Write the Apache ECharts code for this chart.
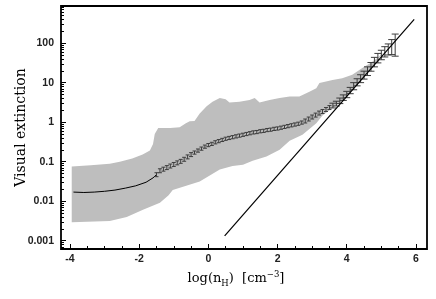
<!DOCTYPE html>
<html><head><meta charset="utf-8">
<script src="https://cdn.jsdelivr.net/npm/echarts@6/dist/echarts.min.js"></script>
<style>html,body{margin:0;padding:0;background:#fff}#c{width:436px;height:299px}</style>
</head><body><div id="c"></div>
<script>
// tick labels
const xTickLabels = [-4, -2, 0, 2, 4, 6];
const xMinorTicks = [-3.5, -3, -2.5, -1.5, -1, -0.5, 0.5, 1, 1.5, 2.5, 3, 3.5, 4.5, 5, 5.5];
const yTickValues = [0.001, 0.01, 0.1, 1, 10, 100];
const yTickLabels = ['0.001', '0.01', '0.1', '1', '10', '100'];

// median curve, low-density part (solid black line)
const medianLineX  = [-3.9, -3.6, -3.3, -3.0, -2.7, -2.4, -2.1, -1.8, -1.6, -1.5];
const medianLineAv = [0.0170, 0.0166, 0.0170, 0.0178, 0.0191, 0.0214, 0.0245, 0.0302, 0.0389, 0.0468];

// binned medians with error bars
const barX = [-1.5,-1.4,-1.3,-1.2,-1.1,-1.0,-0.9,-0.8,-0.7,-0.6,-0.5,-0.4,-0.3,-0.2,-0.1,0.0,
  0.1,0.2,0.3,0.4,0.5,0.6,0.7,0.8,0.9,1.0,1.1,1.2,1.3,1.4,1.5,1.6,1.7,1.8,1.9,2.0,
  2.1,2.2,2.3,2.4,2.5,2.6,2.7,2.8,2.9,3.0,3.1,3.2,3.3,3.4,3.5,3.6,3.7,3.8,3.9,4.0,
  4.1,4.2,4.3,4.4,4.5,4.6,4.7,4.8,4.9,5.0,5.1,5.2,5.3,5.4];
const barAv = [0.0468,0.0589,0.0646,0.0708,0.0776,0.0851,0.0933,0.102,0.115,0.132,0.151,0.170,0.191,0.214,0.240,0.263,
  0.282,0.309,0.331,0.355,0.380,0.398,0.417,0.437,0.457,0.479,0.501,0.525,0.550,0.562,0.589,0.603,0.631,0.646,0.676,0.692,
  0.724,0.759,0.794,0.832,0.871,0.912,0.977,1.07,1.20,1.35,1.51,1.70,1.86,2.09,2.34,2.63,2.95,3.47,4.17,5.01,
  6.31,8.13,10.2,12.6,15.5,19.5,25.1,33.1,41.7,50.1,60.3,69.2,79.4,89.1];
const barErrDex = [0.05,0.05,0.05,0.05,0.05,0.05,0.05,0.05,0.05,0.05,0.05,
  0.04,0.04,0.04,0.04,0.04,0.04,0.04,0.04,0.04,0.04,0.04,0.04,0.04,0.04,0.04,0.04,
  0.04,0.04,0.04,0.04,0.04,0.04,0.04,0.04,0.04,0.04,0.04,0.04,0.04,0.04,0.04,0.04,
  0.05,0.05,0.05,0.05,0.05,0.05,0.05,0.05,
  0.06,0.06,0.07,0.07,0.08,
  0.08,0.09,0.09,0.10,0.10,0.11,0.11,0.12,0.12,
  0.12,0.13,0.14,0.19,0.28];

// dispersion envelope (grey band)
const upperX  = [-3.95,-3.4,-2.85,-2.56,-2.2,-1.9,-1.69,-1.6,-1.55,-1.45,-1.1,-0.83,-0.65,-0.54,-0.4,-0.25,-0.05,0.12,0.33,0.5,0.61,0.9,1.19,1.34,1.48,1.77,2.06,2.35,2.63,2.92,3.12,3.21,3.59,3.87,4.16,4.45,4.74,4.94,5.05];
const upperAv = [0.0759,0.0813,0.0891,0.100,0.120,0.151,0.191,0.282,0.501,0.708,0.708,0.741,0.933,1.05,1.07,1.66,2.51,3.31,4.07,3.80,3.16,3.31,3.63,4.07,3.16,3.63,4.07,4.47,4.47,5.89,7.24,9.77,11.7,12.9,15.8,23.4,33.9,45.7,57.5];
const lowerX  = [-3.95,-2.85,-2.36,-1.89,-1.40,-1.15,-1.03,-0.64,-0.25,0.04,0.33,0.70,1.0,1.28,1.68,2.06,2.35,2.72,3.12,3.30,3.50,3.80,4.10,4.40,4.70,5.05];
const lowerAv = [0.00295,0.00316,0.00398,0.00603,0.00912,0.0141,0.0191,0.0245,0.0316,0.0447,0.0631,0.0776,0.0832,0.105,0.135,0.200,0.339,0.479,0.933,1.48,2.00,3.09,5.62,11.2,22.9,57.5];

// linear relation A_V ∝ n_H
const refLineX  = [0.47, 5.95];
const refLineAv = [0.00132, 398];

const lg = Math.log10;
const yMinorTicks = [];
for (let n = -4; n <= 2; n++) for (let k = 2; k <= 9; k++) {
  const v = lg(k) + n; if (v > -3.21 && v < 2.94) yMinorTicks.push(v);
}
const yMajorTicks = yTickValues.map(lg);

const chart = echarts.init(document.getElementById('c'), null, {renderer: 'canvas'});
const X0 = -4.26, X1 = 6.32, Y0 = -3.21, Y1 = 2.94;
const labelFont = {fontFamily: 'Liberation Sans, Arial, sans-serif', fontSize: 10.5, fontWeight: 'bold', color: '#222'};
const serif = 'DejaVu Serif, Liberation Serif, serif';

const upperPts = upperX.map((x, i) => [x, lg(upperAv[i])]);
const lowerPts = lowerX.map((x, i) => [x, lg(lowerAv[i])]);
const noLine = {show: false, onZero: false};

chart.setOption({
  animation: false,
  grid: {left: 61, top: 6, width: 366, height: 243, show: true, borderColor: '#000', borderWidth: 1.8, backgroundColor: 'transparent'},
  xAxis: [{
    type: 'value', min: X0, max: X1, position: 'bottom',
    axisLine: noLine, splitLine: {show: false},
    axisTick: {show: true, inside: true, length: 5, customValues: xTickLabels, lineStyle: {color: '#000', width: 1}},
    axisLabel: Object.assign({customValues: xTickLabels, margin: 5, formatter: v => String(v)}, labelFont),
    name: '{t|log(n}{s|H}{t|)  [cm}{p|−3}{t|]}', nameLocation: 'middle', nameGap: 18,
    nameTextStyle: {padding: [0, 16, 0, 0], rich: {
      t: {fontFamily: serif, fontSize: 13, lineHeight: 18, color: '#000'},
      s: {fontFamily: serif, fontSize: 8.5, lineHeight: 9, verticalAlign: 'bottom', color: '#000'},
      p: {fontFamily: serif, fontSize: 8.5, lineHeight: 9, verticalAlign: 'top', color: '#000'}
    }}
  }, {
    type: 'value', min: X0, max: X1, position: 'bottom',
    axisLine: noLine, splitLine: {show: false},
    axisTick: {show: true, inside: true, length: 3, customValues: xMinorTicks, lineStyle: {color: '#000', width: 1}},
    axisLabel: {show: false}
  }],
  yAxis: [{
    type: 'value', min: Y0, max: Y1, position: 'left',
    axisLine: noLine, splitLine: {show: false},
    axisTick: {show: true, inside: true, length: 5, customValues: yMajorTicks, lineStyle: {color: '#000', width: 1}},
    axisLabel: Object.assign({customValues: yMajorTicks, margin: 7,
      formatter: v => yTickLabels[yMajorTicks.findIndex(t => Math.abs(t - v) < 1e-6)] || ''}, labelFont),
    name: 'Visual extinction', nameLocation: 'middle', nameGap: 33, nameRotate: 90, nameMoveOverlap: false,
    nameTextStyle: {fontFamily: serif, fontSize: 14, color: '#000'}
  }, {
    type: 'value', min: Y0, max: Y1, position: 'left',
    axisLine: noLine, splitLine: {show: false},
    axisTick: {show: true, inside: true, length: 3, customValues: yMinorTicks, lineStyle: {color: '#000', width: 1}},
    axisLabel: {show: false}
  }],
  series: [{
    type: 'custom', silent: true, z: 1, data: [[0, 0]],
    renderItem: (p, api) => {
      const pts = upperPts.concat(lowerPts.slice().reverse()).map(d => api.coord(d));
      return {type: 'polygon', shape: {points: pts}, style: {fill: '#bebebe', stroke: null}};
    }
  }, {
    type: 'line', z: 3, symbol: 'none',
    data: medianLineX.map((x, i) => [x, lg(medianLineAv[i])]),
    lineStyle: {color: '#000', width: 1}
  }, {
    type: 'custom', z: 4, silent: true,
    data: barX.map((x, i) => [x, lg(barAv[i]), barErrDex[i]]),
    renderItem: (p, api) => {
      const x = api.value(0), y = api.value(1), e = api.value(2);
      const lo = api.coord([x, y - e]), hi = api.coord([x, y + e]);
      const w = e >= 0.06 ? 3.5 : 2;
      const st = {stroke: '#3c3c3c', lineWidth: 1, fill: null};
      return {type: 'group', children: [
        {type: 'line', shape: {x1: lo[0], y1: lo[1], x2: hi[0], y2: hi[1]}, style: st},
        {type: 'line', shape: {x1: lo[0] - w, y1: lo[1], x2: lo[0] + w, y2: lo[1]}, style: st},
        {type: 'line', shape: {x1: hi[0] - w, y1: hi[1], x2: hi[0] + w, y2: hi[1]}, style: st}
      ]};
    }
  }, {
    type: 'line', z: 5, symbol: 'none',
    data: refLineX.map((x, i) => [x, lg(refLineAv[i])]),
    lineStyle: {color: '#000', width: 1.2}
  }]
});
</script>
</body></html>
